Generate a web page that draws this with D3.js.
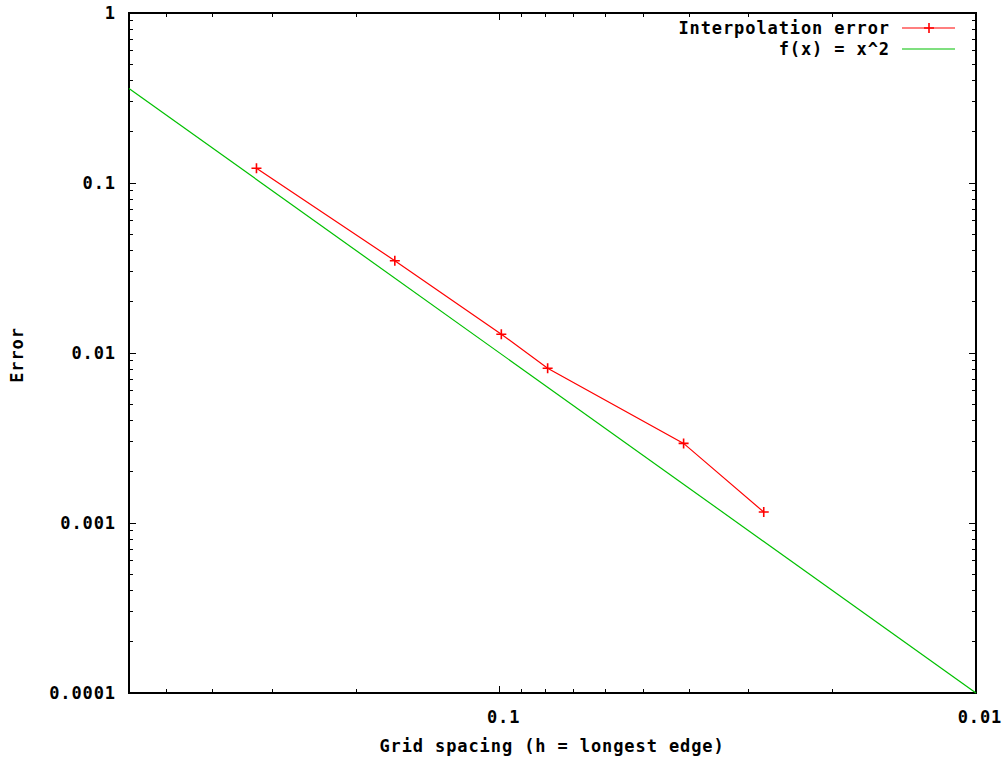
<!DOCTYPE html>
<html>
<head>
<meta charset="utf-8">
<script src="https://cdn.jsdelivr.net/npm/d3@7"></script>
<style>
  body { margin: 0; background: #fff; }
  text { font-family: "DejaVu Sans Mono", monospace; font-weight: bold; font-size: 17px; letter-spacing: 0.9px; fill: #000; }
</style>
</head>
<body>
<div id="chart"></div>
<script>
// interpolation error vs grid spacing
var gridSpacing = [0.324, 0.166, 0.0992, 0.0793, 0.0411, 0.0279];
var interpError = [0.122, 0.0349, 0.0129, 0.00813, 0.00294, 0.00116];

// f(x) = x^2 reference line, end points
var refX = [0.6, 0.01];
var refY = [0.36, 0.0001];

var xTickLabels = ["0.1", "0.01"];
var yTickLabels = ["1", "0.1", "0.01", "0.001", "0.0001"];

var legendNames = ["Interpolation error", "f(x) = x^2"];
var colors = ["#ff0000", "#00c000"];

var width = 1008, height = 759;
var margin = {top: 13, right: 32, bottom: 66, left: 129};

var svg = d3.select("#chart").append("svg")
    .attr("width", width)
    .attr("height", height);

var x = d3.scaleLog()
    .domain([0.6, 0.01])
    .range([margin.left, width - margin.right]);

var y = d3.scaleLog()
    .domain([0.0001, 1])
    .range([height - margin.bottom, margin.top]);

var x0 = margin.left, x1 = width - margin.right;
var y0 = height - margin.bottom, y1 = margin.top;

// ticks: majors at powers of ten, minors in between (mirrored on all sides)
var xMajor = xTickLabels.map(Number);
var yMajor = yTickLabels.map(Number);
var xMinor = x.ticks().filter(function (d) { return xMajor.indexOf(d) < 0; });
var yMinor = y.ticks().filter(function (d) { return yMajor.indexOf(d) < 0; });

var ticks = svg.append("g").attr("stroke", "#000").attr("stroke-width", 1).attr("shape-rendering", "crispEdges");

function xTick(v, len) {
    ticks.append("line").attr("x1", x(v)).attr("x2", x(v)).attr("y1", y0).attr("y2", y0 - len);
    ticks.append("line").attr("x1", x(v)).attr("x2", x(v)).attr("y1", y1).attr("y2", y1 + len);
}
function yTick(v, len) {
    ticks.append("line").attr("y1", y(v)).attr("y2", y(v)).attr("x1", x0).attr("x2", x0 + len);
    ticks.append("line").attr("y1", y(v)).attr("y2", y(v)).attr("x1", x1).attr("x2", x1 - len);
}
xMajor.forEach(function (d) { xTick(d, 7); });
xMinor.forEach(function (d) { xTick(d, 4); });
yMajor.forEach(function (d) { yTick(d, 7); });
yMinor.forEach(function (d) { yTick(d, 4); });

// border
svg.append("rect")
    .attr("x", x0).attr("y", y1)
    .attr("width", x1 - x0).attr("height", y0 - y1)
    .attr("fill", "none")
    .attr("stroke", "#000")
    .attr("stroke-width", 2);

// tick labels
svg.selectAll(".xlab").data(xTickLabels).enter()
    .append("text")
    .attr("x", function (d) { return x(+d) + 4; })
    .attr("y", 723)
    .attr("text-anchor", "middle")
    .text(function (d) { return d; });

svg.selectAll(".ylab").data(yTickLabels).enter()
    .append("text")
    .attr("x", 116)
    .attr("y", function (d) { return y(+d) + 6; })
    .attr("text-anchor", "end")
    .text(function (d) { return d; });

// axis titles
svg.append("text")
    .attr("x", 552).attr("y", 752)
    .attr("text-anchor", "middle")
    .text("Grid spacing (h = longest edge)");

svg.append("text")
    .attr("transform", "translate(23,355) rotate(-90)")
    .attr("text-anchor", "middle")
    .text("Error");

var line = d3.line()
    .x(function (d) { return x(d[0]); })
    .y(function (d) { return y(d[1]); });

var plot = svg.append("g");

// f(x) = x^2
plot.append("path")
    .datum(d3.zip(refX, refY))
    .attr("d", line)
    .attr("fill", "none")
    .attr("stroke", colors[1])
    .attr("stroke-width", 1.2);

// interpolation error
var errData = d3.zip(gridSpacing, interpError);
plot.append("path")
    .datum(errData)
    .attr("d", line)
    .attr("fill", "none")
    .attr("stroke", colors[0])
    .attr("stroke-width", 1.2);

function plus(g, cx, cy) {
    g.append("path")
        .attr("d", "M" + (cx - 5) + "," + cy + "H" + (cx + 5) + "M" + cx + "," + (cy - 5) + "V" + (cy + 5))
        .attr("stroke", colors[0])
        .attr("stroke-width", 1.6);
}
errData.forEach(function (d) { plus(plot, x(d[0]), y(d[1])); });

// legend
var legend = svg.append("g");
legendNames.forEach(function (name, i) {
    var ly = 28 + i * 21;
    legend.append("text")
        .attr("x", 890).attr("y", ly + 6)
        .attr("text-anchor", "end")
        .text(name);
    legend.append("line")
        .attr("x1", 902).attr("x2", 955)
        .attr("y1", ly).attr("y2", ly)
        .attr("stroke", colors[i])
        .attr("stroke-width", 1.2);
    if (i == 0) plus(legend, 929, ly);
});
</script>
</body>
</html>
